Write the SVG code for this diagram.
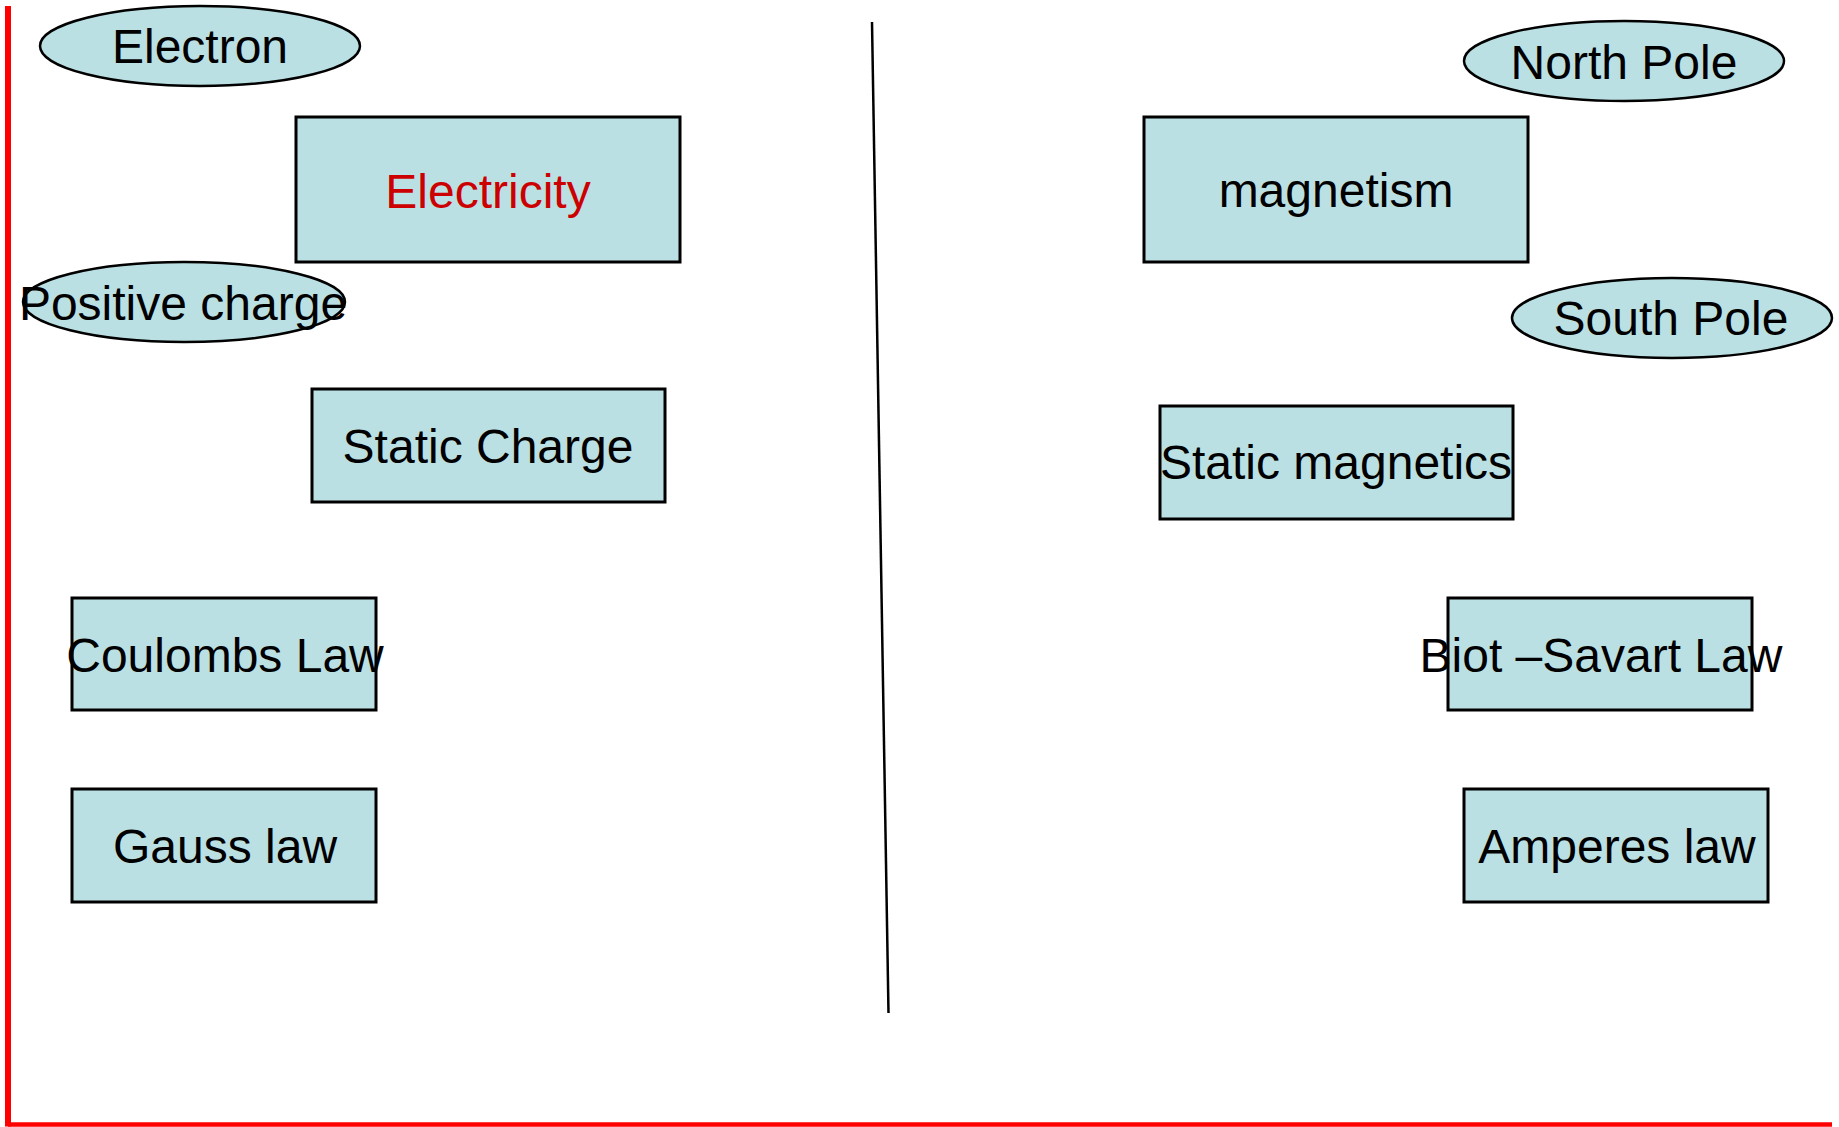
<svg xmlns="http://www.w3.org/2000/svg" width="1839" height="1127" viewBox="0 0 1839 1127">
  <style>
    .box { fill: #bbe0e3; stroke: #000; stroke-width: 3; }
    .oval { fill: #bbe0e3; stroke: #000; stroke-width: 2.5; }
    .lbl { font-family: "Liberation Sans", Arial, sans-serif; font-size: 48px; fill: #000; text-anchor: middle; }
    .hot { fill: #cc0000; }
  </style>
  <rect x="0" y="0" width="1839" height="1127" fill="#fff"/>

  <!-- frame and divider -->
  <g id="lines">
    <line x1="8" y1="6" x2="8" y2="1126.5" stroke="#ff0000" stroke-width="6"/>
    <line x1="8" y1="1124.5" x2="1832" y2="1124.5" stroke="#ff0000" stroke-width="4.5"/>
    <line x1="872" y1="22" x2="888.5" y2="1013" stroke="#000" stroke-width="2.5"/>
  </g>

  <!-- electricity side -->
  <g id="electron">
    <ellipse class="oval" cx="200" cy="46" rx="160" ry="40"/>
    <text class="lbl" x="200" y="63">Electron</text>
  </g>
  <g id="electricity">
    <rect class="box" x="296" y="117" width="384" height="145"/>
    <text class="lbl hot" x="488" y="208">Electricity</text>
  </g>
  <g id="positive-charge">
    <ellipse class="oval" cx="184" cy="302" rx="161" ry="40"/>
    <text class="lbl" x="183" y="320">Positive charge</text>
  </g>
  <g id="static-charge">
    <rect class="box" x="312" y="389" width="353" height="113"/>
    <text class="lbl" x="488" y="463">Static Charge</text>
  </g>
  <g id="coulombs-law">
    <rect class="box" x="72" y="598" width="304" height="112"/>
    <text class="lbl" x="225" y="672">Coulombs Law</text>
  </g>
  <g id="gauss-law">
    <rect class="box" x="72" y="789" width="304" height="113"/>
    <text class="lbl" x="225" y="863">Gauss law</text>
  </g>

  <!-- magnetism side -->
  <g id="north-pole">
    <ellipse class="oval" cx="1624" cy="61" rx="160" ry="40"/>
    <text class="lbl" x="1624" y="79">North Pole</text>
  </g>
  <g id="magnetism">
    <rect class="box" x="1144" y="117" width="384" height="145"/>
    <text class="lbl" x="1336" y="207">magnetism</text>
  </g>
  <g id="south-pole">
    <ellipse class="oval" cx="1672" cy="318" rx="160" ry="40"/>
    <text class="lbl" x="1671" y="335">South Pole</text>
  </g>
  <g id="static-magnetics">
    <rect class="box" x="1160" y="406" width="353" height="113"/>
    <text class="lbl" x="1336" y="479">Static magnetics</text>
  </g>
  <g id="biot-savart-law">
    <rect class="box" x="1448" y="598" width="304" height="112"/>
    <text class="lbl" x="1601" y="672">Biot –Savart Law</text>
  </g>
  <g id="amperes-law">
    <rect class="box" x="1464" y="789" width="304" height="113"/>
    <text class="lbl" x="1617" y="863">Amperes law</text>
  </g>
</svg>
